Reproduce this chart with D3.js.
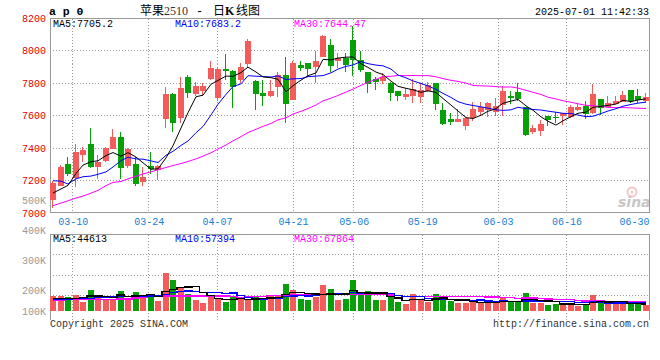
<!DOCTYPE html>
<html><head><meta charset="utf-8">
<script src="https://cdn.jsdelivr.net/npm/d3@7"></script>
<style>
html,body{margin:0;padding:0;background:#fff;}
svg{display:block;}
</style></head><body>
<svg id="c" width="660" height="360"></svg>
<script>
// ---------------- data ----------------
const dates = ["03-05","03-06","03-07","03-10","03-11","03-12","03-13","03-14","03-17","03-18","03-19","03-20","03-21","03-24","03-25","03-26","03-27","03-28","03-31","04-01","04-02","04-03","04-07","04-08","04-09","04-10","04-11","04-14","04-15","04-16","04-17","04-18","04-21","04-22","04-23","04-24","04-25","04-28","04-29","04-30","05-06","05-07","05-08","05-09","05-12","05-13","05-14","05-15","05-16","05-19","05-20","05-21","05-22","05-23","05-26","05-27","05-28","05-29","05-30","06-03","06-04","06-05","06-06","06-09","06-10","06-11","06-12","06-13","06-16","06-17","06-18","06-19","06-20","06-23","06-24","06-25","06-26","06-27","06-30","07-01"];
const open  = [7079,7171,7304,7216,7360,7427,7288,7321,7398,7470,7294,7304,7190,7292,7268,7583,7734,7587,7838,7736,7752,7826,7707,7887,7877,7820,7920,7814,7742,7722,7775,7851,7697,7912,7924,7902,7963,8035,7939,7957,8065,7943,7869,7826,7816,7804,7752,7718,7724,7718,7754,7799,7636,7579,7564,7540,7585,7621,7636,7626,7667,7722,7746,7652,7503,7509,7599,7595,7599,7591,7636,7660,7615,7701,7656,7673,7687,7759,7722,7691];
const high  = [7200,7298,7347,7425,7409,7525,7358,7407,7517,7499,7403,7345,7284,7376,7300,7777,7742,7838,7851,7810,7799,7937,7898,7980,7881,7922,8070,7820,7820,7820,7869,7959,7939,7939,7924,8000,8096,8070,7984,7986,8151,8000,7869,7840,7865,7806,7752,7770,7826,7799,7806,7803,7681,7615,7642,7595,7687,7687,7683,7707,7783,7754,7804,7656,7544,7574,7601,7626,7617,7667,7677,7693,7793,7703,7722,7722,7752,7761,7765,7742];
const low   = [7030,7165,7227,7161,7313,7278,7210,7317,7398,7214,7278,7171,7165,7239,7206,7527,7503,7558,7712,7724,7722,7820,7693,7820,7650,7799,7902,7636,7660,7718,7718,7558,7697,7873,7840,7799,7959,7871,7892,7871,7847,7871,7742,7759,7795,7693,7691,7700,7677,7677,7746,7636,7544,7544,7560,7513,7570,7601,7591,7601,7599,7673,7691,7476,7489,7478,7540,7558,7544,7585,7632,7579,7611,7605,7652,7673,7683,7681,7681,7677];
const close = [7185,7288,7243,7378,7390,7288,7317,7403,7470,7278,7398,7182,7225,7272,7292,7734,7558,7769,7742,7783,7783,7894,7887,7875,7775,7900,8061,7736,7724,7752,7851,7675,7924,7896,7887,7937,8092,7908,7953,7914,7943,7883,7795,7810,7838,7742,7722,7734,7765,7759,7789,7671,7550,7560,7579,7585,7642,7652,7681,7660,7752,7707,7705,7482,7525,7548,7574,7585,7615,7652,7652,7609,7732,7646,7681,7693,7726,7691,7697,7714];
const volume = [145900,145900,136000,155900,86200,205600,145900,116000,116000,195600,116000,185700,136000,155900,96200,374700,305000,235400,165800,106100,76300,155900,116000,86200,136000,116000,106100,136000,116000,155900,145900,265300,205600,116000,106100,136000,255300,215500,106100,116000,305000,162500,195600,106100,106100,139300,82900,66300,165800,106100,82900,165800,116000,92800,79600,79600,82900,82900,79600,79600,129300,82900,96200,175700,79600,79600,56400,66300,56400,79600,49700,66300,155900,96200,66300,66300,66300,66300,82900,56400];
// moving-average values before enough candles exist in the window
const ma5Head  = [7125,7150,7172,7245];
const ma10Head = [7200,7198,7180,7212,7225,7229,7240,7255,7285];
const ma30Head = [7047,7063,7077,7094,7106,7124,7141,7170,7190,7196,7212,7228,7242,7255,7268,7282,7294,7306,7319,7335,7352,7372,7396,7420,7446,7472,7497,7517,7535];
const vma5Head  = [118000,119000,120000,122000];
const vma10Head = [113000,114000,116000,118000,120000,124000,128000,133000,138000];
const vma30Head = [106000,107000,108000,109000,110000,111000,112000,113000,114000,115000,116000,126000,136000,139000,143000,146000,146000,146000,146000,146000,146000,146000,146000,146000,143000,133000,136000,139000,143000];
const priceTicks = [7000,7200,7400,7600,7800,8000,8200];
const volTicks = [100000,200000,300000,400000,500000];
const dateTicks = ["03-10","03-24","04-07","04-21","05-06","05-19","06-03","06-16","06-30"];
const maText  = ["MA5:7705.2","MA10:7683.2","MA30:7644.47"];
const vmaText = ["MA5:44613","MA10:57394","MA30:67864"];

// ---------------- chart ----------------
const MONO = "'Liberation Mono','DejaVu Sans Mono',monospace";
const UP = "#f65b5b", DOWN = "#08a008", GRID = "#9a9a9a", BORDER = "#999";
const svg = d3.select("#c");
const X0 = 50, X1 = 650;
const yP = d3.scaleLinear().domain([7000, 8200]).range([213.3, 18.3]);
const yV = d3.scaleLinear().domain([0, 760000]).range([310.7, 234.3]);
const yVL = d3.scaleLinear().domain([133000, 500000]).range([314, 203]).clamp(true);
const xb = d3.scaleBand().domain(dates).range([X0, X1]);
const gp = d3.scalePoint().domain(dates).range([X0, X1]);
const bx = d => Math.floor(xb(d) + 0.75);
const cx = d => bx(d) + 3;
const px = v => Math.floor(v) + 0.5;

function ma(arr, n, head) {
  return arr.map((v, i) => i < n - 1 ? head[i] : d3.mean(arr.slice(i - n + 1, i + 1)));
}

// gridlines
const grid = svg.append("g").attr("stroke", GRID).attr("stroke-dasharray", "1,2").attr("shape-rendering", "crispEdges");
priceTicks.filter(v => v > 7000 && v < 8200).forEach(v => {
  grid.append("line").attr("x1", X0).attr("x2", X1).attr("y1", px(yP(v))).attr("y2", px(yP(v)));
});
const vGrid = d3.scaleLinear().domain([0, 4]).range([315.5, 234.5]);
[1, 2, 3].forEach(k => {
  grid.append("line").attr("x1", X0).attr("x2", X1).attr("y1", px(vGrid(k))).attr("y2", px(vGrid(k)));
});
dateTicks.filter(d => d !== "06-30").forEach(d => {
  const x = px(gp(d));
  grid.append("line").attr("x1", x).attr("x2", x).attr("y1", 18.5).attr("y2", 212.5);
  grid.append("line").attr("x1", x).attr("x2", x).attr("y1", 234.5).attr("y2", 320);
});

// borders
const bord = svg.append("g").attr("stroke", BORDER).attr("fill", "none").attr("shape-rendering", "crispEdges");
bord.append("rect").attr("x", 50.5).attr("y", 18.5).attr("width", 599).attr("height", 194);
bord.append("path").attr("d", "M50.5,319.5V234.5H649.5V319.5");

// sina watermark
const logo = svg.append("g").attr("opacity", 0.55);
logo.append("circle").attr("cx", 632).attr("cy", 192).attr("r", 4.5).attr("fill", "none").attr("stroke", "#ee9a9a").attr("stroke-width", 2);
logo.append("circle").attr("cx", 632).attr("cy", 192).attr("r", 1.5).attr("fill", "#ee9a9a");
logo.append("text").attr("x", 618).attr("y", 207).text("sina")
  .attr("font-family", "'DejaVu Sans',sans-serif").attr("font-weight", "bold").attr("font-style", "italic")
  .attr("font-size", 14).attr("fill", "#9a9a9a");

// candles
const idx = d3.range(dates.length);
const cg = svg.append("g").attr("shape-rendering", "crispEdges");
cg.selectAll("line.w").data(idx).join("line")
  .attr("x1", i => cx(dates[i]) - 0.5).attr("x2", i => cx(dates[i]) - 0.5)
  .attr("y1", i => yP(high[i])).attr("y2", i => yP(low[i]))
  .attr("stroke", i => close[i] >= open[i] ? UP : DOWN);
cg.selectAll("rect.b").data(idx).join("rect")
  .attr("x", i => bx(dates[i])).attr("width", 6)
  .attr("y", i => yP(Math.max(open[i], close[i])))
  .attr("height", i => Math.max(1, yP(Math.min(open[i], close[i])) - yP(Math.max(open[i], close[i]))))
  .attr("fill", i => close[i] >= open[i] ? UP : DOWN);

// price MAs
const lineP = d3.line().x((v, i) => cx(dates[i])).y(v => yP(v));
[[ma(close, 30, ma30Head), "#ff00ff"], [ma(close, 10, ma10Head), "#0000ff"], [ma(close, 5, ma5Head), "#000"]].forEach(([s, c]) => {
  svg.append("path").attr("d", lineP(s)).attr("fill", "none").attr("stroke", c).attr("stroke-width", 1);
});

// volume bars
const vg = svg.append("g").attr("shape-rendering", "crispEdges");
vg.selectAll("rect").data(idx).join("rect")
  .attr("x", i => bx(dates[i])).attr("width", 6)
  .attr("y", i => yV(volume[i])).attr("height", i => yV(0) - yV(volume[i]))
  .attr("fill", i => close[i] >= open[i] ? UP : DOWN);
const lineV = d3.line().x((v, i) => cx(dates[i])).y(v => yV(v)).curve(d3.curveStep);
[[ma(volume, 30, vma30Head), "#ff00ff"], [ma(volume, 10, vma10Head), "#0000ff"], [ma(volume, 5, vma5Head), "#000"]].forEach(([s, c]) => {
  svg.append("path").attr("d", lineV(s)).attr("fill", "none").attr("stroke", c).attr("stroke-width", 1.3).attr("shape-rendering", "crispEdges");
});

// axes
const ya = svg.append("g").attr("transform", "translate(50,0)")
  .call(d3.axisLeft(yP).tickValues(priceTicks).tickSize(0).tickPadding(4).tickFormat(d3.format("d")));
ya.select(".domain").remove();
ya.selectAll("text").attr("fill", "#e00000").attr("font-family", MONO).attr("font-size", 10).attr("dy", "0.27em");

const va = svg.append("g").attr("transform", "translate(50,0)")
  .call(d3.axisLeft(yVL).tickValues(volTicks).tickSize(0).tickPadding(4).tickFormat(d => (d / 1000) + "K"));
va.select(".domain").remove();
va.selectAll("text").attr("fill", "#999").attr("font-family", MONO).attr("font-size", 10).attr("dy", "0");

const xa = svg.append("g").attr("transform", "translate(0,212.5)")
  .call(d3.axisBottom(gp).tickValues(dateTicks).tickSize(0).tickPadding(5.5));
xa.select(".domain").remove();
xa.selectAll("text").attr("fill", "#1580d8").attr("font-family", MONO).attr("font-size", 10);
xa.selectAll(".tick").filter(d => gp(d) + 15 > 649).select("text")
  .attr("text-anchor", "end").attr("x", d => 649 - gp(d));

// titles & legends
svg.append("text").attr("x", 49).attr("y", 14.5).text("a p 0")
  .attr("font-family", MONO).attr("font-weight", "bold").attr("font-size", 11.5).attr("fill", "#000");
const CJK = "'Noto Sans CJK SC',sans-serif";
svg.append("text").attr("x", 140).attr("y", 14.5).text("苹果").attr("font-family", CJK).attr("font-size", 12).attr("fill", "#000");
svg.append("text").attr("x", 164).attr("y", 14.5).text("2510").attr("font-family", "'Liberation Serif',serif").attr("font-size", 12).attr("fill", "#333");
svg.append("text").attr("x", 196).attr("y", 14.5).text("-").attr("font-family", MONO).attr("font-size", 12).attr("fill", "#000");
svg.append("text").attr("x", 213).attr("y", 14.5).text("日").attr("font-family", CJK).attr("font-size", 12).attr("fill", "#000");
svg.append("text").attr("x", 225).attr("y", 14.5).text("K").attr("font-family", "'Liberation Serif',serif").attr("font-weight", "bold").attr("font-size", 12).attr("fill", "#000");
svg.append("text").attr("x", 236).attr("y", 14.5).text("线图").attr("font-family", CJK).attr("font-size", 12).attr("fill", "#000");
svg.append("text").attr("x", 649).attr("y", 15).attr("text-anchor", "end").text("2025-07-01 11:42:33")
  .attr("font-family", MONO).attr("font-size", 10).attr("fill", "#000");

const legX = [53, 175, 294], legC = ["#000", "#0000ff", "#ff00ff"];
maText.forEach((t, k) => svg.append("text").attr("x", legX[k]).attr("y", 26.5).text(t)
  .attr("font-family", MONO).attr("font-size", 10).attr("fill", legC[k]));
vmaText.forEach((t, k) => svg.append("text").attr("x", legX[k]).attr("y", 242).text(t)
  .attr("font-family", MONO).attr("font-size", 10).attr("fill", legC[k]));

svg.append("text").attr("x", 50).attr("y", 326.5).text("Copyright 2025 SINA.COM")
  .attr("font-family", MONO).attr("font-size", 10).attr("fill", "#333");
svg.append("text").attr("x", 649).attr("y", 326.5).attr("text-anchor", "end").text("http://finance.sina.com.cn")
  .attr("font-family", MONO).attr("font-size", 10).attr("fill", "#333");
</script>
</body></html>
